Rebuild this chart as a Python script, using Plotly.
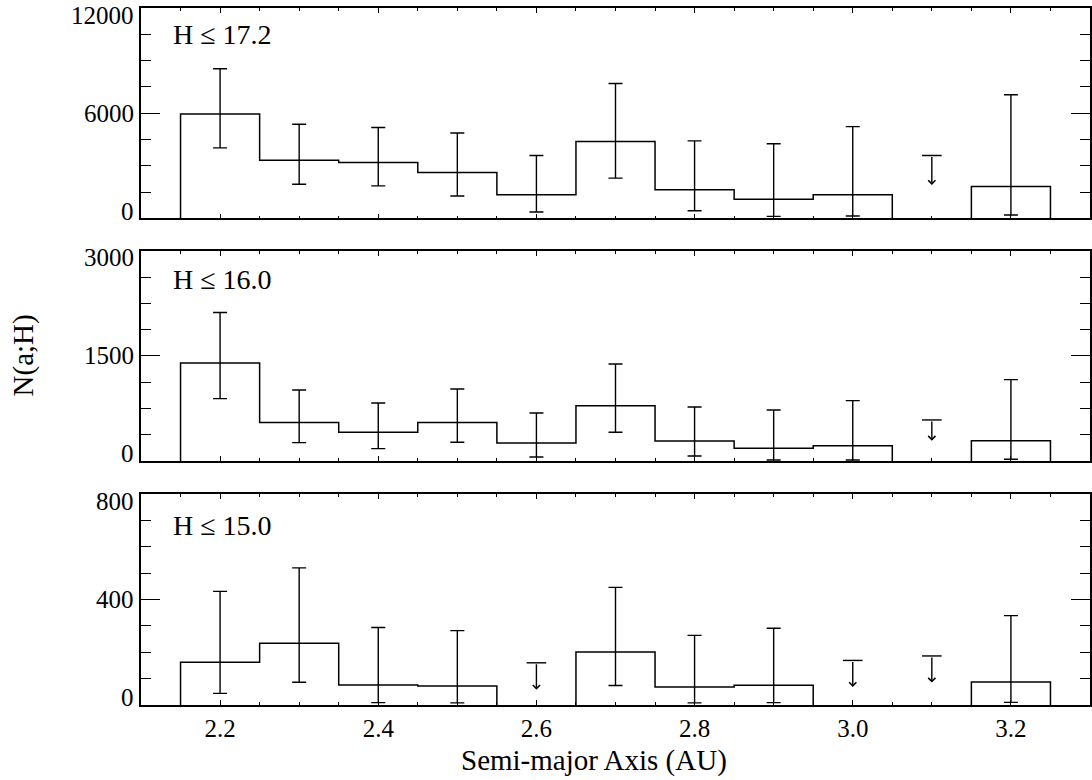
import plotly.graph_objects as go
from plotly.subplots import make_subplots

# Semi-major axis bin centres (AU); bins are 0.1 AU wide
a_bins = [2.2, 2.3, 2.4, 2.5, 2.6, 2.7, 2.8, 2.9, 3.0, 3.1, 3.2]
bin_width = 0.1

# H <= 17.2
n_172 = [5950, 3310, 3180, 2610, 1350, 4380, 1630, 1090, 1350, 0, 1810]
hi_172 = [8530, 5370, 5180, 4870, 3580, 7690, 4420, 4250, 5230, None, 7050]
lo_172 = [4020, 1940, 1850, 1270, 360, 2290, 430, 110, 130, None, 190]
lim_a_172 = [3.1]
lim_top_172 = [3580]
lim_tip_172 = [1900]

# H <= 16.0
n_160 = [1400, 548, 410, 548, 257, 790, 286, 181, 219, 0, 290]
hi_160 = [2120, 1014, 829, 1029, 686, 1386, 771, 729, 862, None, 1162]
lo_160 = [890, 262, 176, 267, 57, 410, 71, 14, 14, None, 24]
lim_a_160 = [3.1]
lim_top_160 = [586]
lim_tip_160 = [290]

# H <= 15.0
n_150 = [162, 234, 76, 72, 0, 201, 68, 75, 0, 0, 87]
hi_150 = [431, 520, 294, 282, None, 446, 264, 291, None, None, 339]
lo_150 = [44, 86, 9, 8, None, 74, 8, 9, None, None, 10]
lim_a_150 = [2.6, 3.0, 3.1]
lim_top_150 = [160, 169, 186]
lim_tip_150 = [58, 68, 85]

panel_labels = ["H \u2264 17.2", "H \u2264 16.0", "H \u2264 15.0"]
y_ticks = [[0, 6000, 12000], [0, 1500, 3000], [0, 400, 800]]
y_minor = [1500, 375, 100]
x_ticks = [2.2, 2.4, 2.6, 2.8, 3.0, 3.2]
x_tick_text = ["2.2", "2.4", "2.6", "2.8", "3.0", "3.2"]

panels = [
    (n_172, hi_172, lo_172, lim_a_172, lim_top_172, lim_tip_172),
    (n_160, hi_160, lo_160, lim_a_160, lim_top_160, lim_tip_160),
    (n_150, hi_150, lo_150, lim_a_150, lim_top_150, lim_tip_150),
]

FONT = "Liberation Serif"
INK = "black"


def step_outline(centres, counts, width):
    """Histogram outline; empty bins leave a gap so nothing is traced on the axis."""
    xs, ys = [], []
    run = []
    for a, n in list(zip(centres, counts)) + [(None, 0)]:
        if n:
            run.append((a, n))
            continue
        if run:
            left = run[0][0] - width / 2
            right = run[-1][0] + width / 2
            xs += [left] + [r[0] - width / 2 for r in run] + [right, None]
            ys += [0] + [r[1] for r in run] + [0, None]
            run = []
    return xs, ys


fig = make_subplots(rows=3, cols=1)
annotations = []
label_y = [0.874, 0.866, 0.852]

for i, (counts, upper, lower, lim_a, lim_top, lim_tip) in enumerate(panels):
    row = i + 1
    sfx = "" if row == 1 else str(row)

    xs, ys = step_outline(a_bins, counts, bin_width)
    fig.add_trace(go.Scatter(x=xs, y=ys, mode="lines", connectgaps=False,
                             line=dict(color=INK, width=1.5, shape="hv"),
                             hoverinfo="skip", showlegend=False), row=row, col=1)

    # asymmetric error bars
    ex, ey, ep, em = [], [], [], []
    for a, n, u, l in zip(a_bins, counts, upper, lower):
        if u is None:
            continue
        ex.append(a)
        ey.append(n)
        ep.append(u - n)
        em.append(n - l)
    fig.add_trace(go.Scatter(x=ex, y=ey, mode="markers",
                             marker=dict(size=2, color="rgba(0,0,0,0)"),
                             error_y=dict(type="data", symmetric=False, array=ep,
                                          arrayminus=em, color=INK,
                                          thickness=1.4, width=7),
                             hoverinfo="skip", showlegend=False), row=row, col=1)

    # upper limits: cap plus downward arrow
    fig.add_trace(go.Scatter(x=lim_a, y=lim_top, mode="markers",
                             marker=dict(symbol="line-ew", size=14,
                                         line=dict(width=1.4, color=INK)),
                             hoverinfo="skip", showlegend=False), row=row, col=1)
    for a, top, tip in zip(lim_a, lim_top, lim_tip):
        annotations.append(dict(x=a, y=tip, ax=a, ay=top,
                                xref="x" + sfx, yref="y" + sfx,
                                axref="x" + sfx, ayref="y" + sfx,
                                text="", showarrow=True, arrowhead=4,
                                arrowsize=1, arrowwidth=1.4, arrowcolor=INK,
                                standoff=0, startstandoff=0))

    # panel label
    annotations.append(dict(text=panel_labels[i], xref="x" + sfx + " domain",
                            yref="y" + sfx + " domain", x=0.032, y=label_y[i],
                            xanchor="left", yanchor="middle", showarrow=False,
                            font=dict(family=FONT, size=28, color=INK)))

    # y tick labels, end labels kept inside the panel
    ticks = y_ticks[i]
    for k, v in enumerate(ticks):
        shift = 7 if k == 0 else (-7 if k == len(ticks) - 1 else 0)
        annotations.append(dict(text=str(v), xref="x" + sfx + " domain",
                                yref="y" + sfx, x=0, y=v, xanchor="right",
                                yanchor="middle", xshift=-5, yshift=shift,
                                showarrow=False,
                                font=dict(family=FONT, size=25, color=INK)))

    fig.update_xaxes(range=[2.1, 3.3], showline=True, linecolor=INK, linewidth=1.5,
                     mirror="allticks", ticks="inside", ticklen=5, tickwidth=1.2,
                     tickcolor=INK, tickvals=x_ticks, ticktext=x_tick_text,
                     minor=dict(dtick=0.05, tick0=2.1, ticks="inside", ticklen=3,
                                tickwidth=1, tickcolor=INK, showgrid=False),
                     showgrid=False, zeroline=False, showticklabels=(row == 3),
                     tickfont=dict(family=FONT, size=25, color=INK),
                     ticklabelstandoff=0, row=row, col=1)
    fig.update_yaxes(range=[ticks[0], ticks[-1]], showline=True, linecolor=INK,
                     linewidth=1.5, mirror="allticks", ticks="inside", ticklen=19,
                     tickwidth=1.2, tickcolor=INK, tickvals=ticks,
                     minor=dict(dtick=y_minor[i], tick0=0, ticks="inside",
                                ticklen=10, tickwidth=1, tickcolor=INK,
                                showgrid=False),
                     showgrid=False, zeroline=False, showticklabels=False,
                     row=row, col=1)

# axis titles
annotations.append(dict(text="Semi-major Axis (AU)", xref="paper", yref="paper",
                        x=0.477, y=-0.079, xanchor="center", yanchor="middle",
                        showarrow=False, font=dict(family=FONT, size=29, color=INK)))
annotations.append(dict(text="N(a;H)", xref="paper", yref="paper",
                        x=-0.124, y=0.502, xanchor="center", yanchor="middle",
                        textangle=-90, showarrow=False,
                        font=dict(family=FONT, size=29, color=INK)))

fig.update_layout(
    width=1092, height=780,
    margin=dict(l=141, r=0, t=8, b=75),
    paper_bgcolor="white", plot_bgcolor="white",
    showlegend=False,
    font=dict(family=FONT, color=INK),
    yaxis=dict(domain=[0.6983, 1.0]),
    yaxis2=dict(domain=[0.3501, 0.6514]),
    yaxis3=dict(domain=[0.0, 0.3027]),
    annotations=annotations,
)

fig.write_html("out.html")
